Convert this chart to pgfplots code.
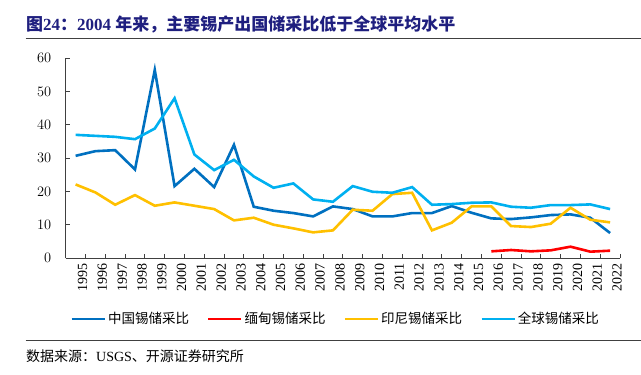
\documentclass[border=0pt]{standalone}
\usepackage{fontspec}
\setmainfont{Liberation Serif}
\newfontfamily\cjk{Noto Sans CJK SC}
\usepackage{pgfplots}
\pgfplotsset{compat=1.18}
\definecolor{cChina}{HTML}{0070C0}
\definecolor{cMyan}{HTML}{FF0000}
\definecolor{cIndo}{HTML}{FFC000}
\definecolor{cWorld}{HTML}{00B0F0}
\definecolor{titlec}{HTML}{1F1F7F}
\definecolor{axisc}{HTML}{404040}
\begin{document}
\begin{tikzpicture}[x=1pt,y=1pt]
\path[use as bounding box] (0,0) rectangle (641,375);
\node[anchor=west,inner sep=0,text=titlec,font=\fontsize{17}{19}\selectfont\bfseries] at (26,351)
  {{\cjk 图}24{\cjk ：}2004 {\cjk 年来，主要锡产出国储采比低于全球平均水平}};
\draw[axisc,line width=1pt] (25.5,336) -- (641,336);
\draw[axisc,line width=1pt] (25.5,34) -- (641,34);
\node[anchor=west,inner sep=0,font=\fontsize{14}{16}\selectfont] at (26,19)
  {{\cjk 数据来源：}USGS{\cjk 、开源证券研究所}};
\begin{axis}[
  at={(65.7pt,117pt)}, anchor=south west,
  scale only axis, width=554.3pt, height=199.7pt,
  xmin=-0.5, xmax=27.5, ymin=0, ymax=60,
  axis lines=left, axis line style={-, axisc, line width=0.8pt},
  tick align=inside,
  xtick={0,...,27},
  xticklabels={1995,1996,1997,1998,1999,2000,2001,2002,2003,2004,2005,2006,2007,2008,2009,2010,2011,2012,2013,2014,2015,2016,2017,2018,2019,2020,2021,2022},
  major x tick style={draw=none},
  minor xtick={-0.5,0.5,...,27.5},
  minor tick length=3.5pt,
  major tick length=4pt,
  tick style={axisc, line width=0.8pt},
  ytick={0,10,...,60},
  xticklabel style={rotate=90, anchor=east, font=\rmfamily\fontsize{14}{16}\selectfont, yshift=-7pt, xshift=-1.5pt},
  yticklabel style={font=\rmfamily\fontsize{14}{16}\selectfont, xshift=-11pt},
  yticklabel={\pgfmathprintnumber{\tick}},
  legend columns=4,
  legend style={at={(0.487,-0.305)}, anchor=center, draw=none, fill=none,
    font=\cjk\fontsize{13.5}{15}\selectfont,
    /tikz/every even column/.append style={column sep=16pt}},
  legend image code/.code={\draw[#1] (0pt,0pt) -- (33pt,0pt);},
]
\addplot[cChina, line width=2.6pt] coordinates {
(0,30.7)(1,32.1)(2,32.4)(3,26.6)(4,56.5)(5,21.6)(6,26.8)(7,21.3)(8,34.0)(9,15.4)
(10,14.2)(11,13.5)(12,12.5)(13,15.5)(14,14.7)(15,12.5)(16,12.5)(17,13.5)(18,13.5)(19,15.6)
(20,13.6)(21,11.9)(22,11.7)(23,12.2)(24,12.9)(25,13.1)(26,12.1)(27,7.5)};
\addlegendentry{中国锡储采比}
\addplot[cMyan, line width=2.6pt] coordinates {
(21,2.0)(22,2.4)(23,2.0)(24,2.3)(25,3.4)(26,1.9)(27,2.2)};
\addlegendentry{缅甸锡储采比}
\addplot[cIndo, line width=2.6pt] coordinates {
(0,22.1)(1,19.7)(2,16.0)(3,18.9)(4,15.7)(5,16.7)(6,15.7)(7,14.7)(8,11.3)(9,12.1)
(10,10.0)(11,8.9)(12,7.7)(13,8.3)(14,14.5)(15,14.2)(16,19.2)(17,19.6)(18,8.3)(19,10.6)
(20,15.5)(21,15.5)(22,9.6)(23,9.3)(24,10.3)(25,15.1)(26,11.5)(27,10.7)};
\addlegendentry{印尼锡储采比}
\addplot[cWorld, line width=2.6pt] coordinates {
(0,37.0)(1,36.7)(2,36.4)(3,35.7)(4,38.9)(5,48.0)(6,31.1)(7,26.4)(8,29.5)(9,24.5)
(10,21.1)(11,22.4)(12,17.6)(13,16.9)(14,21.6)(15,19.9)(16,19.6)(17,21.3)(18,16.0)(19,16.2)
(20,16.6)(21,16.7)(22,15.4)(23,15.1)(24,15.9)(25,15.9)(26,16.1)(27,14.7)};
\addlegendentry{全球锡储采比}
\end{axis}
\end{tikzpicture}
\end{document}
